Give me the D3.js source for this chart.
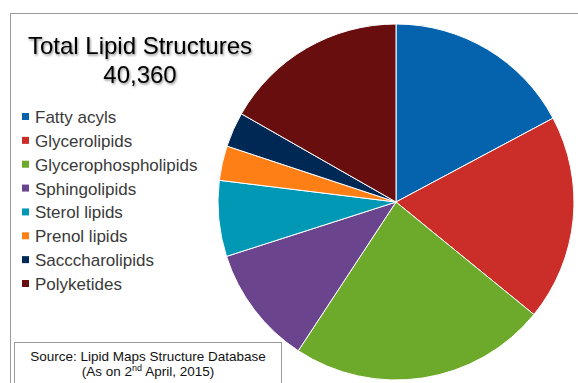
<!DOCTYPE html>
<html>
<head>
<meta charset="utf-8">
<script src="https://cdn.jsdelivr.net/npm/d3@7"></script>
<style>
  html, body { margin: 0; padding: 0; background: #fff; }
  svg { display: block; }
</style>
</head>
<body>
<script>
const categories = ["Fatty acyls", "Glycerolipids", "Glycerophospholipids", "Sphingolipids",
  "Sterol lipids", "Prenol lipids", "Sacccharolipids", "Polyketides"];
const values = [6940, 7545, 9429, 4361, 2780, 1267, 1278, 6760];
const colors = ["#0563ae", "#cb2d28", "#6daa2c", "#6b448e", "#0098b5", "#ff7f17", "#002855", "#680e0e"];
const titleLines = ["Total Lipid Structures", "40,360"];

const W = 578, H = 383;
const svg = d3.select("body").append("svg").attr("width", W).attr("height", H);

const defs = svg.append("defs");
const f = defs.append("filter").attr("id", "shadow").attr("x", "-10%").attr("y", "-30%")
  .attr("width", "130%").attr("height", "180%");
f.append("feDropShadow").attr("dx", 1).attr("dy", 1.5).attr("stdDeviation", 1.2)
  .attr("flood-color", "#000").attr("flood-opacity", 0.45);

// outer frame
svg.append("rect").attr("x", 10.5).attr("y", 13.5).attr("width", 700).attr("height", 500)
  .attr("fill", "#fff").attr("stroke", "#9a9a9a").attr("stroke-width", 1);

// pie
const cx = 396, cy = 202, R = 178;
const pie = d3.pie().sort(null).value(d => d).startAngle(0).endAngle(2 * Math.PI);
const arc = d3.arc().innerRadius(0).outerRadius(R);
const g = svg.append("g").attr("transform", `translate(${cx},${cy})`);
g.selectAll("path").data(pie(values)).join("path")
  .attr("d", arc)
  .attr("fill", (d, i) => colors[i])
  .attr("stroke", "#fff").attr("stroke-width", 1);

// title
const title = svg.append("text").attr("text-anchor", "middle")
  .attr("font-family", "Liberation Sans, Arial, sans-serif").attr("font-size", 24)
  .attr("fill", "#000").attr("filter", "url(#shadow)");
title.selectAll("tspan").data(titleLines).join("tspan")
  .attr("x", 140).attr("y", (d, i) => i === 0 ? 54 : 83).text(d => d);

// legend
const y = d3.scalePoint().domain(categories).range([123, 290]);
const leg = svg.append("g").selectAll("g").data(categories).join("g")
  .attr("transform", d => `translate(0,${y(d)})`);
leg.append("rect").attr("x", 22).attr("y", -10).attr("width", 7).attr("height", 7)
  .attr("fill", (d, i) => colors[i]);
leg.append("text").attr("x", 35).attr("y", 0)
  .attr("font-family", "Liberation Sans, Arial, sans-serif").attr("font-size", 17)
  .attr("fill", "#3a3a3a").text(d => d);

// source box
svg.append("rect").attr("x", 14.5).attr("y", 342.5).attr("width", 267).attr("height", 60)
  .attr("fill", "#fff").attr("stroke", "#9a9a9a").attr("stroke-width", 1);
const src = svg.append("text").attr("text-anchor", "middle")
  .attr("font-family", "Liberation Sans, Arial, sans-serif").attr("font-size", 13.5).attr("fill", "#111");
src.append("tspan").attr("x", 148).attr("y", 361).text("Source: Lipid Maps Structure Database");
const l2 = svg.append("text").attr("text-anchor", "middle")
  .attr("font-family", "Liberation Sans, Arial, sans-serif").attr("font-size", 13.5).attr("fill", "#111")
  .attr("x", 148).attr("y", 376);
l2.append("tspan").text("(As on 2");
l2.append("tspan").attr("font-size", 9).attr("dy", -5).text("nd");
l2.append("tspan").attr("dy", 5).text(" April, 2015)");
</script>
</body>
</html>
